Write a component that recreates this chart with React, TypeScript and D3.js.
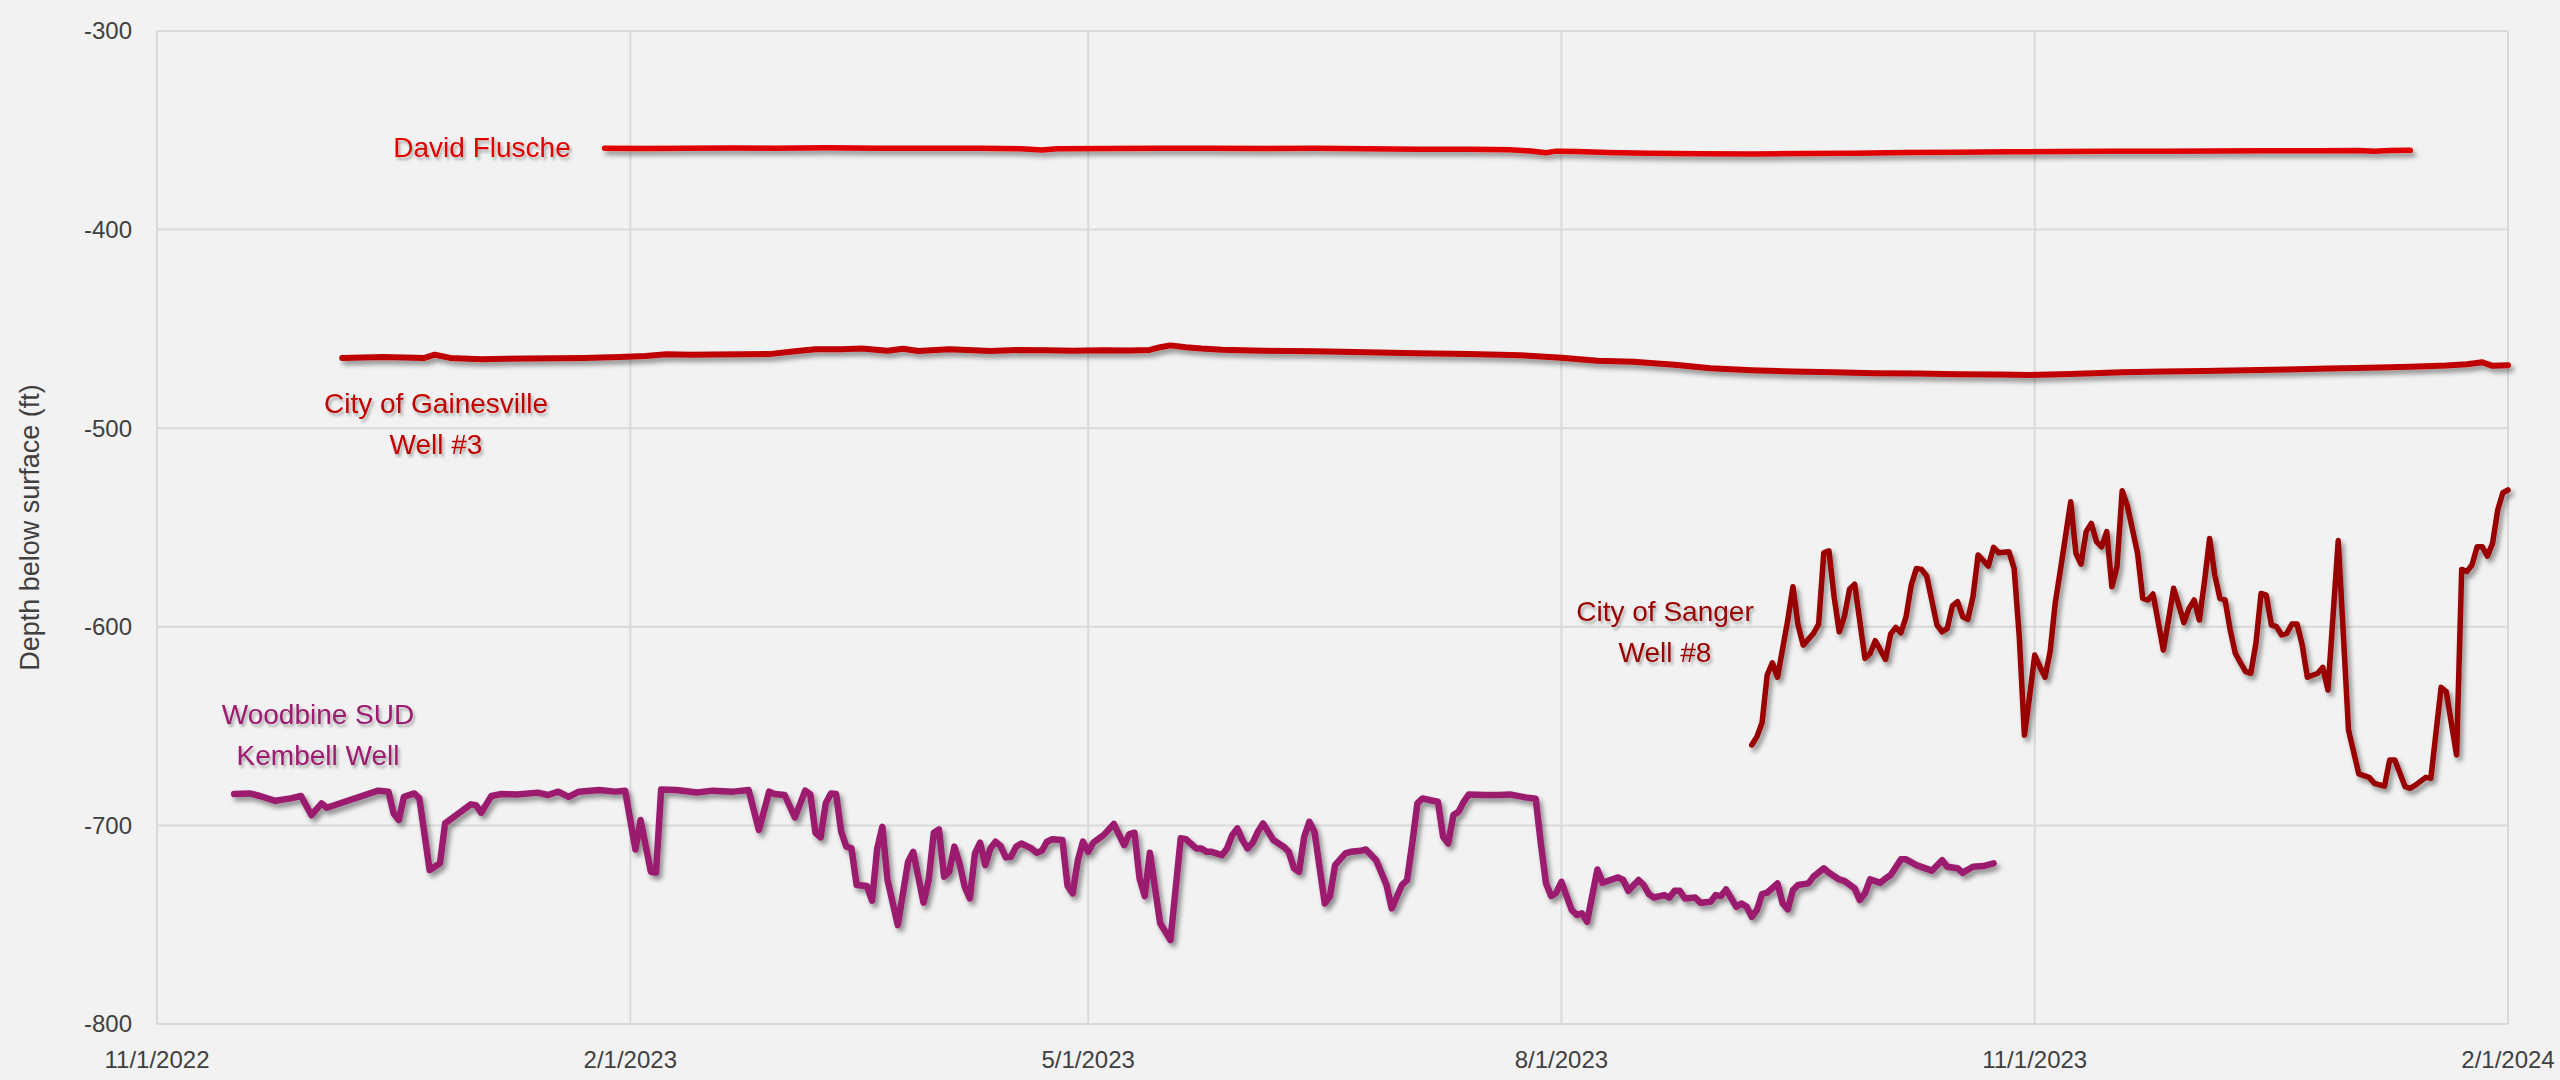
import * as d3 from 'd3';

// day offsets are counted from this date
const START = new Date(2022, 10, 1);

const xTickLabels = ['11/1/2022', '2/1/2023', '5/1/2023', '8/1/2023', '11/1/2023', '2/1/2024'];
const yTicks = [-300, -400, -500, -600, -700, -800];

// [days since 11/1/2022, depth ft]
const flusche: [number, number][] = [
  [87, -359.0], [95, -359.2], [103, -359.0], [112, -358.9], [120, -359.0], [130, -358.8], [140, -359.0],
  [150, -359.1], [160, -359.0], [168, -359.3], [172, -359.9], [175, -359.3], [185, -359.2], [195, -359.0],
  [205, -359.1], [215, -359.2], [225, -359.1], [235, -359.3], [245, -359.5], [255, -359.6], [263, -359.8],
  [267, -360.4], [270, -361.3], [272, -360.5], [276, -360.7], [282, -361.2], [290, -361.5], [300, -361.8],
  [310, -361.9], [320, -361.7], [330, -361.5], [340, -361.2], [350, -361.0], [360, -360.8], [370, -360.7],
  [380, -360.5], [390, -360.6], [400, -360.4], [410, -360.3], [420, -360.3], [428, -360.2], [431, -360.6],
  [434, -360.2], [438, -360.1],
];

const gainesville: [number, number][] = [
  [36, -464.6], [40, -464.4], [44, -464.1], [48, -464.4], [52, -464.6], [54, -463.0], [57, -464.6],
  [63, -465.3], [68, -465.0], [72, -464.9], [78, -464.8], [83, -464.6], [90, -464.2], [95, -463.7],
  [99, -462.8], [104, -463.0], [108, -462.9], [114, -462.8], [119, -462.7], [124, -461.3], [128, -460.3],
  [133, -460.2], [137, -459.9], [142, -461.0], [145, -460.0], [148, -461.1], [154, -460.3], [162, -461.1],
  [167, -460.6], [173, -460.7], [178, -461.0], [184, -460.7], [189, -460.9], [193, -460.6], [195, -459.2],
  [197, -458.3], [200, -459.2], [203, -459.9], [207, -460.5], [215, -461.0], [225, -461.3], [235, -461.8],
  [245, -462.2], [255, -462.6], [265, -463.3], [273, -464.5], [280, -466.0], [287, -466.6], [295, -468.0],
  [302, -469.8], [310, -470.8], [318, -471.5], [326, -471.8], [334, -472.3], [342, -472.5], [350, -472.8],
  [358, -473.0], [364, -473.2], [372, -472.7], [382, -471.8], [390, -471.5], [398, -471.2], [406, -470.8],
  [414, -470.5], [422, -470.0], [430, -469.5], [438, -469.0], [445, -468.4], [449, -467.8], [452, -466.8],
  [454, -468.6], [457, -468.3],
];

const woodbine: [number, number][] = [
  [15, -684.2], [18, -683.9], [20, -685.2], [23, -687.6], [26, -686.4], [28, -685.2], [30, -694.8],
  [32, -688.9], [33, -691.1], [43, -682.5], [45, -683.0], [46, -694.0], [47, -697.3], [48, -685.6],
  [50, -683.9], [51, -686.4], [53, -722.5], [55, -719.1], [56, -699.0], [61, -689.4], [62, -689.8],
  [63, -693.6], [65, -685.2], [67, -684.2], [70, -684.4], [74, -683.5], [76, -684.7], [78, -683.0],
  [80, -685.6], [82, -683.0], [86, -682.2], [89, -683.0], [91, -682.5], [93, -712.1], [94, -697.3],
  [96, -723.3], [97, -723.7], [98, -681.9], [101, -682.2], [105, -683.4], [108, -682.5], [112, -683.0],
  [115, -682.2], [117, -702.3], [119, -683.0], [120, -684.2], [122, -684.7], [124, -696.0], [126, -682.5],
  [127, -684.4], [128, -703.7], [129, -706.0], [130, -688.9], [131, -683.9], [132, -684.2], [133, -703.2],
  [134, -710.7], [135, -711.6], [136, -730.0], [138, -730.5], [139, -737.9], [140, -711.6], [141, -700.7],
  [142, -727.5], [144, -750.2], [146, -718.3], [147, -713.3], [149, -738.9], [150, -727.5], [151, -703.7],
  [152, -702.0], [153, -725.8], [154, -723.3], [155, -710.7], [156, -719.1], [157, -730.9], [158, -736.8],
  [159, -714.1], [160, -708.7], [161, -720.0], [162, -711.6], [163, -708.2], [164, -710.4], [165, -716.1],
  [166, -715.8], [167, -710.7], [168, -709.1], [170, -711.6], [171, -713.8], [172, -712.8], [173, -708.2],
  [174, -707.0], [176, -707.4], [177, -730.5], [178, -734.2], [179, -717.5], [180, -708.2], [181, -713.3],
  [182, -708.7], [184, -704.9], [186, -699.3], [188, -709.9], [189, -704.4], [190, -703.7], [191, -726.7],
  [192, -735.6], [193, -713.8], [195, -749.3], [197, -757.7], [199, -706.5], [200, -707.0], [202, -711.6],
  [203, -711.6], [204, -713.3], [205, -713.3], [207, -715.0], [208, -711.6], [209, -704.9], [210, -701.5],
  [211, -707.4], [212, -711.6], [213, -708.7], [214, -703.2], [215, -699.0], [217, -707.4], [219, -710.7],
  [220, -713.3], [221, -721.6], [222, -723.3], [223, -705.7], [224, -698.2], [225, -703.2], [227, -739.3],
  [228, -735.6], [229, -720.0], [231, -714.1], [232, -713.3], [234, -712.8], [235, -712.1], [237, -717.5],
  [239, -730.0], [240, -741.8], [242, -730.0], [243, -727.5], [244, -709.1], [245, -688.9], [246, -686.4],
  [248, -687.6], [249, -688.1], [250, -705.7], [251, -709.1], [252, -694.8], [253, -693.1], [254, -688.1],
  [255, -684.4], [258, -684.7], [261, -684.7], [263, -684.4], [266, -685.9], [268, -686.6], [269, -709.1],
  [270, -729.2], [271, -735.6], [272, -733.9], [273, -728.4], [275, -742.6], [276, -745.1], [277, -744.3],
  [278, -748.5], [280, -722.2], [281, -728.9], [284, -726.2], [285, -727.5], [286, -732.9], [288, -727.5],
  [289, -730.0], [290, -734.6], [291, -736.3], [293, -735.1], [294, -736.3], [295, -732.9], [296, -732.9],
  [297, -736.8], [299, -736.3], [300, -738.9], [302, -738.4], [303, -735.1], [304, -735.6], [305, -732.2],
  [307, -741.0], [308, -739.3], [309, -741.0], [310, -746.0], [311, -742.6], [312, -734.6], [313, -733.9],
  [315, -729.2], [316, -739.3], [317, -742.3], [318, -732.6], [319, -730.0], [321, -729.2], [322, -725.8],
  [324, -721.6], [325, -723.8], [327, -727.2], [328, -727.9], [330, -731.7], [331, -737.6], [332, -734.2],
  [333, -727.2], [335, -728.9], [336, -726.7], [337, -725.0], [339, -717.1], [340, -717.1], [342, -720.0],
  [345, -722.8], [347, -717.5], [348, -720.8], [350, -721.6], [351, -723.8], [353, -720.8], [355, -720.5],
  [357, -719.1],
];

const sanger: [number, number][] = [
  [310, -659.5], [311, -655.3], [312, -648.3], [313, -624.3], [314, -618.1], [315, -625.4], [317, -596.6],
  [318, -579.8], [319, -599.1], [320, -609.2], [322, -603.3], [323, -598.6], [324, -562.7], [325, -561.7],
  [326, -584.8], [327, -602.5], [328, -594.9], [329, -581.1], [330, -578.5], [332, -615.9], [333, -613.4],
  [334, -607.0], [336, -616.4], [337, -603.6], [338, -600.3], [339, -603.0], [340, -594.9], [341, -579.0],
  [342, -570.6], [343, -571.1], [344, -574.4], [346, -599.1], [347, -602.5], [348, -600.8], [349, -589.5],
  [350, -587.3], [351, -594.9], [352, -596.2], [353, -584.8], [354, -563.8], [356, -569.4], [357, -560.0],
  [358, -562.7], [360, -562.2], [361, -570.6], [362, -605.0], [363, -654.5], [364, -635.2], [365, -614.2],
  [366, -620.1], [367, -625.4], [368, -612.5], [369, -587.8], [370, -571.4], [372, -537.0], [373, -563.0],
  [374, -568.4], [375, -552.1], [376, -547.9], [377, -557.1], [378, -559.7], [379, -552.1], [380, -579.8],
  [381, -569.7], [382, -531.5], [383, -539.0], [385, -563.0], [386, -585.7], [387, -586.5], [388, -583.5],
  [389, -597.4], [390, -611.7], [391, -596.6], [392, -580.6], [393, -589.0], [394, -597.9], [395, -590.7],
  [396, -586.5], [397, -596.6], [398, -577.3], [399, -555.5], [400, -573.9], [401, -585.7], [402, -586.5],
  [403, -601.6], [404, -613.4], [405, -618.1], [406, -622.6], [407, -623.4], [408, -608.3], [409, -583.2],
  [410, -584.0], [411, -599.1], [412, -599.9], [413, -604.1], [414, -603.3], [415, -598.6], [416, -598.6],
  [417, -609.2], [418, -625.4], [420, -623.4], [421, -620.4], [422, -631.8], [424, -556.6], [426, -652.0],
  [428, -674.1], [430, -675.8], [431, -678.8], [433, -680.2], [434, -667.1], [435, -667.1], [437, -680.5],
  [438, -681.3], [439, -679.7], [441, -675.8], [442, -676.3], [444, -630.5], [445, -632.7], [447, -664.5],
  [448, -571.1], [449, -572.2], [450, -568.9], [451, -559.7], [452, -559.7], [453, -564.4], [454, -558.0],
  [455, -541.2], [456, -532.5], [457, -531.1],
];

const seriesNames = ['David Flusche', 'City of Gainesville\nWell #3', 'City of Sanger\nWell #8', 'Woodbine SUD\nKembell Well'];

// drawing styles and label spots for each series (pixels)
const seriesStyle = [
  { data: flusche, color: '#e00000', width: 5.5, lx: 482, ly: 157 },
  { data: gainesville, color: '#c00000', width: 6, lx: 436, ly: 413 },
  { data: sanger, color: '#990000', width: 5.5, lx: 1665, ly: 621 },
  { data: woodbine, color: '#9b1b6e', width: 6.5, lx: 318, ly: 724 },
];

const W = 2560;
const H = 1080;
const plot = { left: 157, right: 2508, top: 31, bottom: 1024 };
const FONT = '"Liberation Sans", Arial, sans-serif';

export default function App() {
  const parse = d3.timeParse('%m/%d/%Y');
  const tickDates = xTickLabels.map(s => parse(s) as Date);

  const x = d3.scaleTime()
    .domain([tickDates[0], tickDates[tickDates.length - 1]])
    .range([plot.left, plot.right]);
  const y = d3.scaleLinear()
    .domain([-800, -300])
    .range([plot.bottom, plot.top]);

  const line = d3.line<[number, number]>()
    .x(d => x(d3.timeDay.offset(START, d[0])))
    .y(d => y(d[1]));

  return (
    <svg width={W} height={H} style={{ position: 'absolute', left: 0, top: 0, display: 'block' }}>
      <defs>
        <filter id="shadow" filterUnits="userSpaceOnUse" x="0" y="0" width={W} height={H}>
          <feDropShadow dx="3" dy="4" stdDeviation="2.5" floodColor="#000" floodOpacity="0.42" />
        </filter>
        <filter id="tshadow" filterUnits="userSpaceOnUse" x="0" y="0" width={W} height={H}>
          <feDropShadow dx="2" dy="3" stdDeviation="1.5" floodColor="#000" floodOpacity="0.3" />
        </filter>
      </defs>
      <rect width={W} height={H} fill="#f2f2f2" />

      {/* gridlines */}
      {yTicks.map(t => (
        <line key={'gy' + t} x1={plot.left} x2={plot.right} y1={y(t)} y2={y(t)}
          stroke="#d9d9d9" strokeWidth={2} />
      ))}
      {tickDates.map((d, i) => (
        <line key={'gx' + i} x1={x(d)} x2={x(d)} y1={plot.top} y2={plot.bottom}
          stroke="#d9d9d9" strokeWidth={2} />
      ))}

      {/* tick labels */}
      {yTicks.map(t => (
        <text key={'ty' + t} x={132} y={y(t)} dy="0.35em" textAnchor="end"
          fontFamily={FONT} fontSize={24} fill="#404040">{t}</text>
      ))}
      {tickDates.map((d, i) => (
        <text key={'tx' + i} x={x(d)} y={1068} textAnchor="middle"
          fontFamily={FONT} fontSize={24} fill="#404040">{xTickLabels[i]}</text>
      ))}

      <text transform={`translate(30,${(plot.top + plot.bottom) / 2}) rotate(-90)`}
        textAnchor="middle" dy="0.35em" fontFamily={FONT} fontSize={27} fill="#404040">
        Depth below surface (ft)
      </text>

      {/* series */}
      {seriesStyle.map((s, i) => (
        <path key={'s' + i} d={line(s.data) || ''} fill="none" stroke={s.color}
          strokeWidth={s.width} strokeLinejoin="round" strokeLinecap="round" filter="url(#shadow)" />
      ))}

      {/* series labels */}
      {seriesStyle.map((s, i) => (
        <text key={'l' + i} x={s.lx} y={s.ly} textAnchor="middle" fontFamily={FONT}
          fontSize={28} fill={s.color} filter="url(#tshadow)">
          {seriesNames[i].split('\n').map((ln, j) => (
            <tspan key={j} x={s.lx} dy={j === 0 ? 0 : 41}>{ln}</tspan>
          ))}
        </text>
      ))}
    </svg>
  );
}
